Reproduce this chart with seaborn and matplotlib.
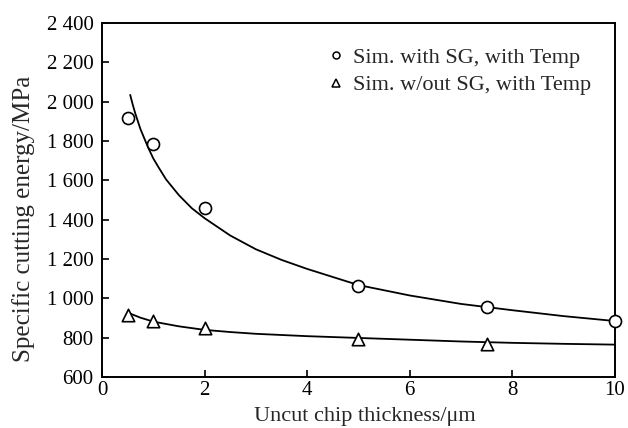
import matplotlib
matplotlib.use("Agg")
import matplotlib.pyplot as plt
from matplotlib.lines import Line2D
import seaborn as sns

# simulated points
thickness = [0.5, 1, 2, 5, 7.5, 10]
energy_sg = [1916, 1785, 1459, 1064, 954, 883]
thickness_nosg = [0.5, 1, 2, 5, 7.5]
energy_nosg = [918, 886, 847, 795, 770]

# fitted trend lines
curve_sg_x = [0.55, 0.6, 0.65, 0.75, 0.9, 1.0, 1.1, 1.25, 1.5, 1.75, 2.0, 2.5,
              3.0, 3.5, 4.0, 5.0, 6.0, 7.0, 8.0, 9.0, 10.0]
curve_sg_y = [2035, 1985, 1940, 1861, 1767, 1712, 1668, 1605, 1525, 1459, 1408, 1320,
              1250, 1196, 1150, 1068, 1015, 972, 940, 910, 885]
curve_nosg_x = [0.5, 0.75, 1, 1.5, 2, 2.5, 3, 4, 5, 6, 7, 8, 9, 10]
curve_nosg_y = [928, 902, 882, 858, 840, 829, 820, 808, 799, 790, 781, 774, 769, 765]

yticks = [600, 800, 1000, 1200, 1400, 1600, 1800, 2000, 2200, 2400]
xticks = [0, 2, 4, 6, 8, 10]
labels = ["Sim. with SG, with Temp", "Sim. w/out SG, with Temp"]

sns.set_theme(style="ticks")
plt.rcParams["font.family"] = ["Liberation Serif", "DejaVu Serif"]

fig, ax = plt.subplots(figsize=(6.28, 4.28), dpi=100)
fig.subplots_adjust(left=0.1624, right=0.979, top=0.946, bottom=0.119)

sns.lineplot(x=curve_sg_x, y=curve_sg_y, ax=ax, color="black", linewidth=1.3)
sns.lineplot(x=curve_nosg_x, y=curve_nosg_y, ax=ax, color="black", linewidth=1.3)
sns.scatterplot(x=thickness, y=energy_sg, ax=ax, marker="o", s=75,
                facecolor="white", edgecolor="black", linewidth=1.2, zorder=3,
                clip_on=False)
sns.scatterplot(x=thickness_nosg, y=energy_nosg, ax=ax, marker="^", s=80,
                facecolor="white", edgecolor="black", linewidth=1.2, zorder=3)

ax.set_xlim(0, 10)
ax.set_ylim(600, 2400)
ax.set_xticks(xticks)
ax.set_xticklabels([str(t) for t in xticks])
ax.set_yticks(yticks)
ax.set_yticklabels([f"{t:,}".replace(",", " ") for t in yticks])
ax.tick_params(direction="in", length=5, width=1.2, labelsize=15, colors="black")
ax.tick_params(axis="y", pad=6)
ax.tick_params(axis="x", pad=3)
for sp in ax.spines.values():
    sp.set_linewidth(1.4)
    sp.set_color("black")
    sp.set_visible(True)

ax.set_xlabel("Uncut chip thickness/μm", fontsize=16)
ax.xaxis.set_label_coords(0.513, -0.085)
ax.set_ylabel("Specific cutting energy/MPa", fontsize=18)
ax.yaxis.set_label_coords(-0.13, 0.446)

handles = [
    Line2D([], [], marker="o", linestyle="none", markersize=5,
           markerfacecolor="white", markeredgecolor="black", markeredgewidth=1.1),
    Line2D([], [], marker="^", linestyle="none", markersize=5.5,
           markerfacecolor="white", markeredgecolor="black", markeredgewidth=1.1),
]
ax.legend(handles, labels, loc="upper left", frameon=False, fontsize=16,
          handlelength=0.6, handletextpad=0.45, labelspacing=0.3,
          borderaxespad=0, bbox_to_anchor=(0.426, 0.956))

fig.savefig("out.png", dpi=100)
